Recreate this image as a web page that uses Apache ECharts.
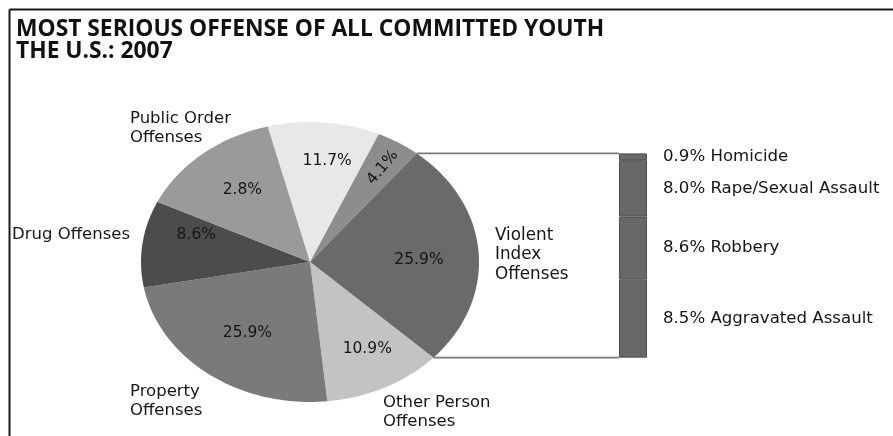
<!DOCTYPE html>
<html>
<head>
<meta charset="utf-8">
<script src="https://cdn.jsdelivr.net/npm/echarts@6/dist/echarts.min.js"></script>
<style>
html,body{margin:0;padding:0;background:#fff;}
#chart{width:893px;height:436px;}
</style>
</head>
<body>
<div id="chart"></div>
<script>
// ---- data ----
const sliceNames = ['Unlabeled (light)', 'Unlabeled (small)', 'Violent Index Offenses', 'Other Person Offenses', 'Property Offenses', 'Drug Offenses', 'Public Order Offenses'];
const categoryLabels = ['', '', 'Violent\nIndex\nOffenses', 'Other Person\nOffenses', 'Property\nOffenses', 'Drug Offenses', 'Public Order\nOffenses'];
// share of the full circle each slice occupies in the drawing (percent)
const sliceShares = [10.7, 4.2, 26.1, 11.4, 23.7, 10.0, 13.9];
// percentages printed inside the slices
const sliceLabels = ['11.7%', '4.1%', '25.9%', '10.9%', '25.9%', '8.6%', '2.8%'];

const violentParts = ['Homicide', 'Rape/Sexual Assault', 'Robbery', 'Aggravated Assault'];
// segment heights of the breakdown bar as drawn
const violentShares = [0.86, 7.18, 8.03, 9.93];
const violentLabels = ['0.9%', '8.0%', '8.6%', '8.5%'];

const titleText = 'MOST SERIOUS OFFENSE OF ALL COMMITTED YOUTH\nTHE U.S.: 2007';

// ---- layout / style ----
const START_ANGLE = 345.5;           // degrees, clockwise from 12 o'clock
const PIE = {left: 141, top: 122, width: 338, height: 280};
const BAR_LEFT = 619, BAR_WIDTH = 28;
const VIOLENT_INDEX = 2;
const sliceColors = ['#e8e8e8', '#8d8d8d', '#6a6a6a', '#c3c3c3', '#7a7a7a', '#4c4c4c', '#9a9a9a'];
// label placement inside slices: [angle deg, radius fraction, rotation deg]
const innerLabelLayout = [[8, 0.73, 0], [32.5, 0.80, 50], [89, 0.645, 0], [151.5, 0.71, 0], [216, 0.63, 0], [286, 0.70, 0], [322, 0.65, 0]];
const outerLabelLayout = {
  2: {x: 495, y: 255, align: 'left', size: 16.8, lh: 19.5},
  3: {x: 383, y: 412, align: 'left', size: 16.5, lh: 19},
  4: {x: 130, y: 401, align: 'left', size: 16.5, lh: 19},
  5: {x: 130, y: 235, align: 'right', size: 16.5, lh: 19},
  6: {x: 130, y: 128, align: 'left', size: 16.5, lh: 19.5}
};
const FONT = '"DejaVu Sans", sans-serif';

const cum = [];
sliceShares.reduce((a, v, i) => { cum[i] = a; return a + v; }, 0);
const totalShare = sliceShares.reduce((a, b) => a + b, 0);
const toRad = d => d * Math.PI / 180;
function angleOf(share) { return START_ANGLE + share / totalShare * 360; }

function renderSlice(params, api) {
  const i = params.dataIndex;
  const a0 = angleOf(cum[i]);
  const a1 = angleOf(cum[i] + sliceShares[i]);
  const pts = [api.coord([0, 0])];
  const steps = Math.max(4, Math.ceil((a1 - a0) / 1.5));
  for (let k = 0; k <= steps; k++) {
    const t = toRad(a0 + (a1 - a0) * k / steps);
    pts.push(api.coord([Math.sin(t), Math.cos(t)]));
  }
  const lay = innerLabelLayout[i];
  const lp = api.coord([lay[1] * Math.sin(toRad(lay[0])), lay[1] * Math.cos(toRad(lay[0]))]);
  return {
    type: 'group',
    children: [
      {type: 'polygon', shape: {points: pts}, style: {fill: sliceColors[i], stroke: null}},
      {type: 'text', x: lp[0], y: lp[1], rotation: toRad(lay[2]),
        style: {text: sliceLabels[i], x: 0, y: 0, align: 'center', verticalAlign: 'middle',
          font: '15.5px ' + FONT, fill: '#151515'}}
    ]
  };
}

function renderBracket(params, api) {
  const i = params.dataIndex;            // 0 = start edge, 1 = end edge of violent slice
  const share = cum[VIOLENT_INDEX] + (i === 0 ? 0 : sliceShares[VIOLENT_INDEX]);
  const t = toRad(angleOf(share));
  const p = api.coord([Math.sin(t), Math.cos(t)]);
  return {type: 'line', shape: {x1: p[0], y1: p[1], x2: BAR_LEFT, y2: p[1]},
    style: {stroke: '#7a7a7a', lineWidth: 1.6}};
}

// bar grid spans exactly the vertical extent of the violent slice edges
const vStart = toRad(angleOf(cum[VIOLENT_INDEX]));
const vEnd = toRad(angleOf(cum[VIOLENT_INDEX] + sliceShares[VIOLENT_INDEX]));
const barTop = PIE.top + PIE.height / 2 * (1 - Math.cos(vStart));
const barBottom = PIE.top + PIE.height / 2 * (1 - Math.cos(vEnd));
const violentTotal = violentShares.reduce((a, b) => a + b, 0);

const graphics = [
  {type: 'line', shape: {x1: 9.5, y1: 9.5, x2: 893, y2: 9.5}, style: {stroke: '#1a1a1a', lineWidth: 2}},
  {type: 'line', shape: {x1: 9.5, y1: 9.5, x2: 9.5, y2: 436}, style: {stroke: '#1a1a1a', lineWidth: 2}}
];
Object.keys(outerLabelLayout).forEach(k => {
  const L = outerLabelLayout[k];
  graphics.push({type: 'text', x: L.x, y: L.y,
    style: {text: categoryLabels[k], align: L.align, verticalAlign: 'middle',
      font: L.size + 'px ' + FONT, lineHeight: L.lh, fill: '#151515'}});
});

const option = {
  animation: false,
  backgroundColor: '#ffffff',
  title: {
    text: titleText, left: 11, top: 14,
    textStyle: {fontFamily: '"Open Sans", sans-serif', fontWeight: 'bold', fontSize: 22.8, lineHeight: 21.5, color: '#111'}
  },
  grid: [
    {left: PIE.left, top: PIE.top, width: PIE.width, height: PIE.height},
    {left: BAR_LEFT, width: BAR_WIDTH, top: barTop, height: barBottom - barTop}
  ],
  xAxis: [
    {type: 'value', min: -1, max: 1, show: false, gridIndex: 0},
    {type: 'category', data: ['Violent Index Offenses'], show: false, gridIndex: 1}
  ],
  yAxis: [
    {type: 'value', min: -1, max: 1, show: false, gridIndex: 0},
    {type: 'value', min: 0, max: violentTotal, inverse: true, show: false, gridIndex: 1}
  ],
  graphic: graphics,
  series: [
    {type: 'custom', name: 'Offenses', xAxisIndex: 0, yAxisIndex: 0,
      data: sliceNames.map((n, i) => ({name: n, value: [i, sliceShares[i]]})),
      renderItem: renderSlice},
    {type: 'custom', name: 'bracket', xAxisIndex: 0, yAxisIndex: 0,
      data: [[0, 0], [1, 0]], renderItem: renderBracket}
  ].concat(violentParts.map((p, i) => ({
    type: 'bar', name: p, stack: 'violent', xAxisIndex: 1, yAxisIndex: 1,
    barWidth: '100%', data: [violentShares[i]],
    itemStyle: {color: '#686868', borderColor: '#4f4f4f', borderWidth: 1},
    label: {show: true, position: 'right', distance: 16,
      formatter: violentLabels[i] + ' ' + p,
      fontFamily: FONT, fontSize: 16.6, color: '#151515'}
  })))
};

const chart = echarts.init(document.getElementById('chart'), null, {renderer: 'canvas'});
chart.setOption(option);
</script>
</body>
</html>
